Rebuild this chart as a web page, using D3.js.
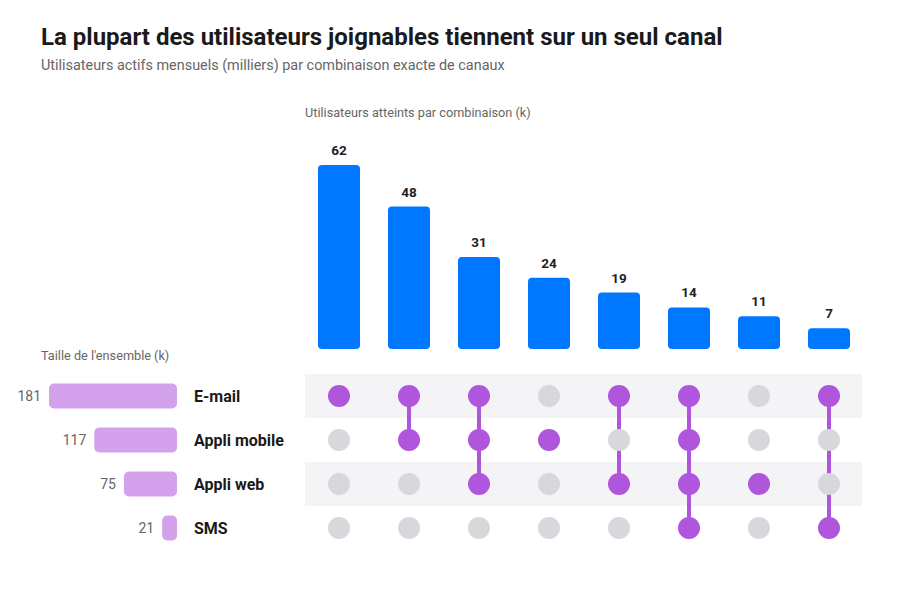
<!DOCTYPE html>
<html>
<head>
<meta charset="utf-8">
<script src="https://cdn.jsdelivr.net/npm/d3@7"></script>
<style>
  body { margin: 0; background: #fff; font-family: Roboto, "Noto Sans", sans-serif; }
  svg text { font-family: Roboto, "Noto Sans", sans-serif; }
</style>
</head>
<body>
<div id="chart"></div>
<script>
// ── données ─────────────────────────────────────────────
const sets      = ['E-mail', 'Appli mobile', 'Appli web', 'SMS'];
const setSizes  = [181, 117, 75, 21];
const combos    = [
  ['E-mail'],
  ['E-mail', 'Appli mobile'],
  ['E-mail', 'Appli mobile', 'Appli web'],
  ['Appli mobile'],
  ['E-mail', 'Appli web'],
  ['E-mail', 'Appli mobile', 'Appli web', 'SMS'],
  ['Appli web'],
  ['E-mail', 'SMS'],
];
const comboValues = [62, 48, 31, 24, 19, 14, 11, 7];

// ── couleurs ────────────────────────────────────────────
const BLUE = '#0077ff', PURPLE = '#b056dc', LILAC = '#d4a1ec',
      GREY_DOT = '#d8d7dc', STRIPE = '#f4f4f6';

const W = 900, H = 596;
const svg = d3.select('#chart').append('svg').attr('width', W).attr('height', H);

svg.append('text').attr('x', 41).attr('y', 45)
  .attr('font-size', 24).attr('font-weight', 700).attr('fill', '#1a1a1a')
  .text('La plupart des utilisateurs joignables tiennent sur un seul canal');
svg.append('text').attr('x', 41).attr('y', 70)
  .attr('font-size', 14.4).attr('fill', '#666')
  .text('Utilisateurs actifs mensuels (milliers) par combinaison exacte de canaux');

// ── échelles ────────────────────────────────────────────
const ids = combos.map((c, i) => i);
const x = d3.scaleBand().domain(ids).range([304, 864]).paddingInner(0.4).paddingOuter(0.2);
const y = d3.scaleLinear().domain([0, d3.max(comboValues)]).range([349, 165]);
const row = d3.scaleBand().domain(sets).range([374, 550]);
const sx = d3.scaleLinear().domain([0, d3.max(setSizes)]).range([0, 128]);
const setRight = 177;

// ── barres des intersections ────────────────────────────
svg.append('text').attr('x', 305).attr('y', 117)
  .attr('font-size', 12.7).attr('fill', '#666')
  .text('Utilisateurs atteints par combinaison (k)');

const bars = svg.append('g');
bars.selectAll('rect').data(ids).join('rect')
  .attr('x', i => x(i)).attr('width', x.bandwidth())
  .attr('y', i => y(comboValues[i])).attr('height', i => y(0) - y(comboValues[i]))
  .attr('rx', 4).attr('fill', BLUE);
bars.selectAll('text').data(ids).join('text')
  .attr('x', i => x(i) + x.bandwidth() / 2).attr('y', i => y(comboValues[i]) - 10)
  .attr('text-anchor', 'middle').attr('font-size', 13.5).attr('font-weight', 700)
  .attr('fill', '#222').text(i => comboValues[i]);

// ── matrice ─────────────────────────────────────────────
const mat = svg.append('g');
mat.selectAll('rect.stripe').data(sets.filter((s, i) => i % 2 === 0)).join('rect')
  .attr('class', 'stripe')
  .attr('x', 305).attr('width', 557)
  .attr('y', s => row(s)).attr('height', row.bandwidth())
  .attr('fill', STRIPE);

const cy = s => row(s) + row.bandwidth() / 2;
const cx = i => x(i) + x.bandwidth() / 2;

ids.forEach(i => {
  const members = combos[i];
  const col = mat.append('g');
  if (members.length > 1) {
    const ys = members.map(cy);
    col.append('line')
      .attr('x1', cx(i)).attr('x2', cx(i))
      .attr('y1', d3.min(ys)).attr('y2', d3.max(ys))
      .attr('stroke', PURPLE).attr('stroke-width', 4);
  }
  col.selectAll('circle').data(sets).join('circle')
    .attr('cx', cx(i)).attr('cy', s => cy(s)).attr('r', 11)
    .attr('fill', s => members.includes(s) ? PURPLE : GREY_DOT);
});

// ── tailles des ensembles ───────────────────────────────
svg.append('text').attr('x', 41).attr('y', 360)
  .attr('font-size', 12.7).attr('fill', '#666')
  .text("Taille de l'ensemble (k)");

const setG = svg.append('g');
sets.forEach((s, i) => {
  const w = sx(setSizes[i]);
  setG.append('rect')
    .attr('x', setRight - w).attr('width', w)
    .attr('y', cy(s) - 12.5).attr('height', 25)
    .attr('rx', 5).attr('fill', LILAC);
  setG.append('text')
    .attr('x', setRight - w - 8).attr('y', cy(s)).attr('dy', '0.35em')
    .attr('text-anchor', 'end').attr('font-size', 14).attr('fill', '#666')
    .text(setSizes[i]);
  setG.append('text')
    .attr('x', 194).attr('y', cy(s)).attr('dy', '0.35em')
    .attr('font-size', 16).attr('font-weight', 700).attr('fill', '#1a1a1a')
    .text(s);
});
</script>
</body>
</html>
